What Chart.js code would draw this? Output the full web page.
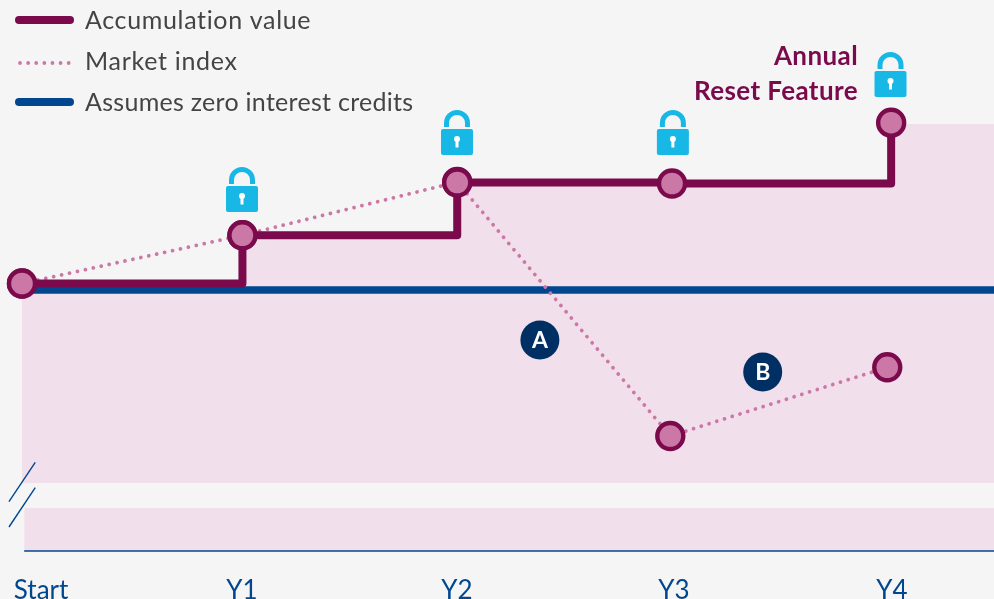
<!DOCTYPE html>
<html><head><meta charset="utf-8">
<style>html,body{margin:0;padding:0;background:#f5f5f5;overflow:hidden}canvas{display:block}</style>
<script src="https://cdn.jsdelivr.net/npm/chart.js@4/dist/chart.umd.min.js"></script>
</head><body><canvas id="c" width="994" height="599"></canvas>
<script>
const tickLabels = ['Start','Y1','Y2','Y3','Y4'];
const tickX = [0.088,1.014,2.005,3.005,4.009];
const accumX = [0,1.016,2.006,2.996,4.006];
const accumStepY = [267.5,315.7,368.5,367.5,428.3];
const marketX = [0,1.016,2.006,2.988,3.988];
const marketY = [267.5,315.7,369,115,183.7];
const zeroX = [0,4.48];
const zeroY = [261,261];
const bandX = [0,1.016,2.006,4.006,4.48];
const bandY = [267.5,315.7,369,427,427];
const bandFloor = 68;
const lowerBandX = [0.01,4.48];
const lowerBandY = [43,43];
const baseX = [0.01,4.48];
const baseY = [0,0];
const breakAX = [-0.06,0.061], breakAY = [49.3,88.7];
const breakBX = [-0.06,0.061], breakBY = [24,63.3];
const badgeX = [2.387,3.414], badgeY = [211,179], badgeText = ['A','B'];
const lockX = [1.014,2.005,3.0,4.003], lockY = [339,396,396,454];
const legendLabels = ['Accumulation value','Market index','Assumes zero interest credits'];
const noteLines = ['Annual','Reset Feature'];

const PLUM='#7a0a4b', PINK='#cc78a6', BLUE='#00478f', NAVY='#003063', BAND='#f1e0ec', CYAN='#17b8e6', GREY='#444444';
const FONT='Lato, "Open Sans", sans-serif';
const zip=(xs,ys)=>xs.map((x,i)=>({x,y:ys[i]}));
const plain={pointRadius:0,pointHoverRadius:0,borderWidth:0,clip:false};

const overlay={id:'overlay',
 afterDatasetsDraw(chart){
  const {ctx,scales:{x,y}}=chart;
  ctx.save();
  ctx.fillStyle='#fff';ctx.font='bold 23px '+FONT;ctx.textAlign='center';ctx.textBaseline='middle';
  badgeText.forEach((t,i)=>ctx.fillText(t,x.getPixelForValue(badgeX[i]),y.getPixelForValue(badgeY[i])+1));
  lockX.forEach((lx,i)=>{
    const cx=x.getPixelForValue(lx), b=y.getPixelForValue(lockY[i]);
    ctx.fillStyle=CYAN;ctx.beginPath();ctx.roundRect(cx-16,b-26,32,26,2);ctx.fill();
    ctx.strokeStyle=CYAN;ctx.lineWidth=5;ctx.lineCap='butt';ctx.beginPath();
    ctx.moveTo(cx-10.5,b-28);ctx.lineTo(cx-10.5,b-32);ctx.arc(cx,b-32,10.5,Math.PI,0);ctx.lineTo(cx+10.5,b-28);ctx.stroke();
    ctx.fillStyle='#fff';ctx.beginPath();ctx.arc(cx,b-16,3,0,Math.PI*2);ctx.fill();
    ctx.fillRect(cx-1.5,b-16,3,8.5);
  });
  ctx.fillStyle=PLUM;ctx.font='bold 26px '+FONT;ctx.textAlign='right';ctx.textBaseline='alphabetic';
  ctx.letterSpacing='0.4px';
  ctx.fillText(noteLines[0],858,65);ctx.fillText(noteLines[1],858,100);
  ctx.textAlign='left';ctx.fillStyle=GREY;ctx.font='25px '+FONT;
  const spacing=['0.65px','0.7px','0.28px'];
  [29,70,111].forEach((by,i)=>{ctx.letterSpacing=spacing[i];ctx.fillText(legendLabels[i],85,by);});
  ctx.letterSpacing='0px';
  ctx.lineCap='round';
  ctx.strokeStyle=PLUM;ctx.lineWidth=8;ctx.beginPath();ctx.moveTo(19,20);ctx.lineTo(70,20);ctx.stroke();
  ctx.strokeStyle=BLUE;ctx.beginPath();ctx.moveTo(19,102);ctx.lineTo(70,102);ctx.stroke();
  ctx.strokeStyle=PINK;ctx.lineWidth=3.8;ctx.setLineDash([0.01,8.1]);ctx.beginPath();ctx.moveTo(20,63);ctx.lineTo(72,63);ctx.stroke();
  ctx.restore();
 }};

new Chart(document.getElementById('c'),{
 type:'line',
 data:{datasets:[
  {label:'Band',data:zip(bandX,bandY),stepped:'before',fill:{value:bandFloor},backgroundColor:BAND,order:9,...plain},
  {label:'Lower band',data:zip(lowerBandX,lowerBandY),fill:{value:0},backgroundColor:BAND,order:8,...plain},
  {label:'Axis',data:zip(baseX,baseY),borderColor:BLUE,order:7,...plain,borderWidth:1.4},
  {label:'Break 1',data:zip(breakAX,breakAY),borderColor:BLUE,order:7,...plain,borderWidth:1.4},
  {label:'Break 2',data:zip(breakBX,breakBY),borderColor:BLUE,order:7,...plain,borderWidth:1.4},
  {label:legendLabels[2],data:zip(zeroX,zeroY),borderColor:BLUE,order:6,...plain,borderWidth:7.5},
  {label:legendLabels[1],data:zip(marketX,marketY),borderColor:PINK,borderDash:[0.01,8.1],borderCapStyle:'round',borderWidth:3.8,
    pointRadius:13,pointBackgroundColor:PINK,pointBorderColor:PLUM,pointBorderWidth:4.4,clip:false,order:5},
  {label:legendLabels[0],data:zip(accumX,accumStepY),stepped:'before',borderColor:PLUM,borderWidth:8,borderJoinStyle:'round',
    pointRadius:13,pointBackgroundColor:PINK,pointBorderColor:PLUM,pointBorderWidth:4.4,clip:false,order:2},
  {label:'Badges',data:zip(badgeX,badgeY),showLine:false,pointRadius:19.5,pointBackgroundColor:NAVY,pointBorderWidth:0,clip:false,order:1}
 ]},
 options:{
  responsive:false,animation:false,
  events:[],
  layout:{autoPadding:false,padding:{left:22,right:0,top:0,bottom:0}},
  plugins:{legend:{display:false},tooltip:{enabled:false},filler:{propagate:false}},
  scales:{
   x:{type:'linear',min:0,max:4.48,
      grid:{display:false},border:{display:false},
      afterBuildTicks(s){s.ticks=tickX.map(v=>({value:v}));},
      afterFit(s){s.height=48;s.paddingLeft=0;s.paddingRight=0;},
      ticks:{autoSkip:false,maxRotation:0,padding:16,color:BLUE,font:{family:FONT,size:26},
             callback:(v,i)=>tickLabels[i]}},
   y:{type:'linear',min:0,max:551,display:false,afterFit(s){s.width=0;}}
  }
 },
 plugins:[overlay]
});
</script></body></html>
